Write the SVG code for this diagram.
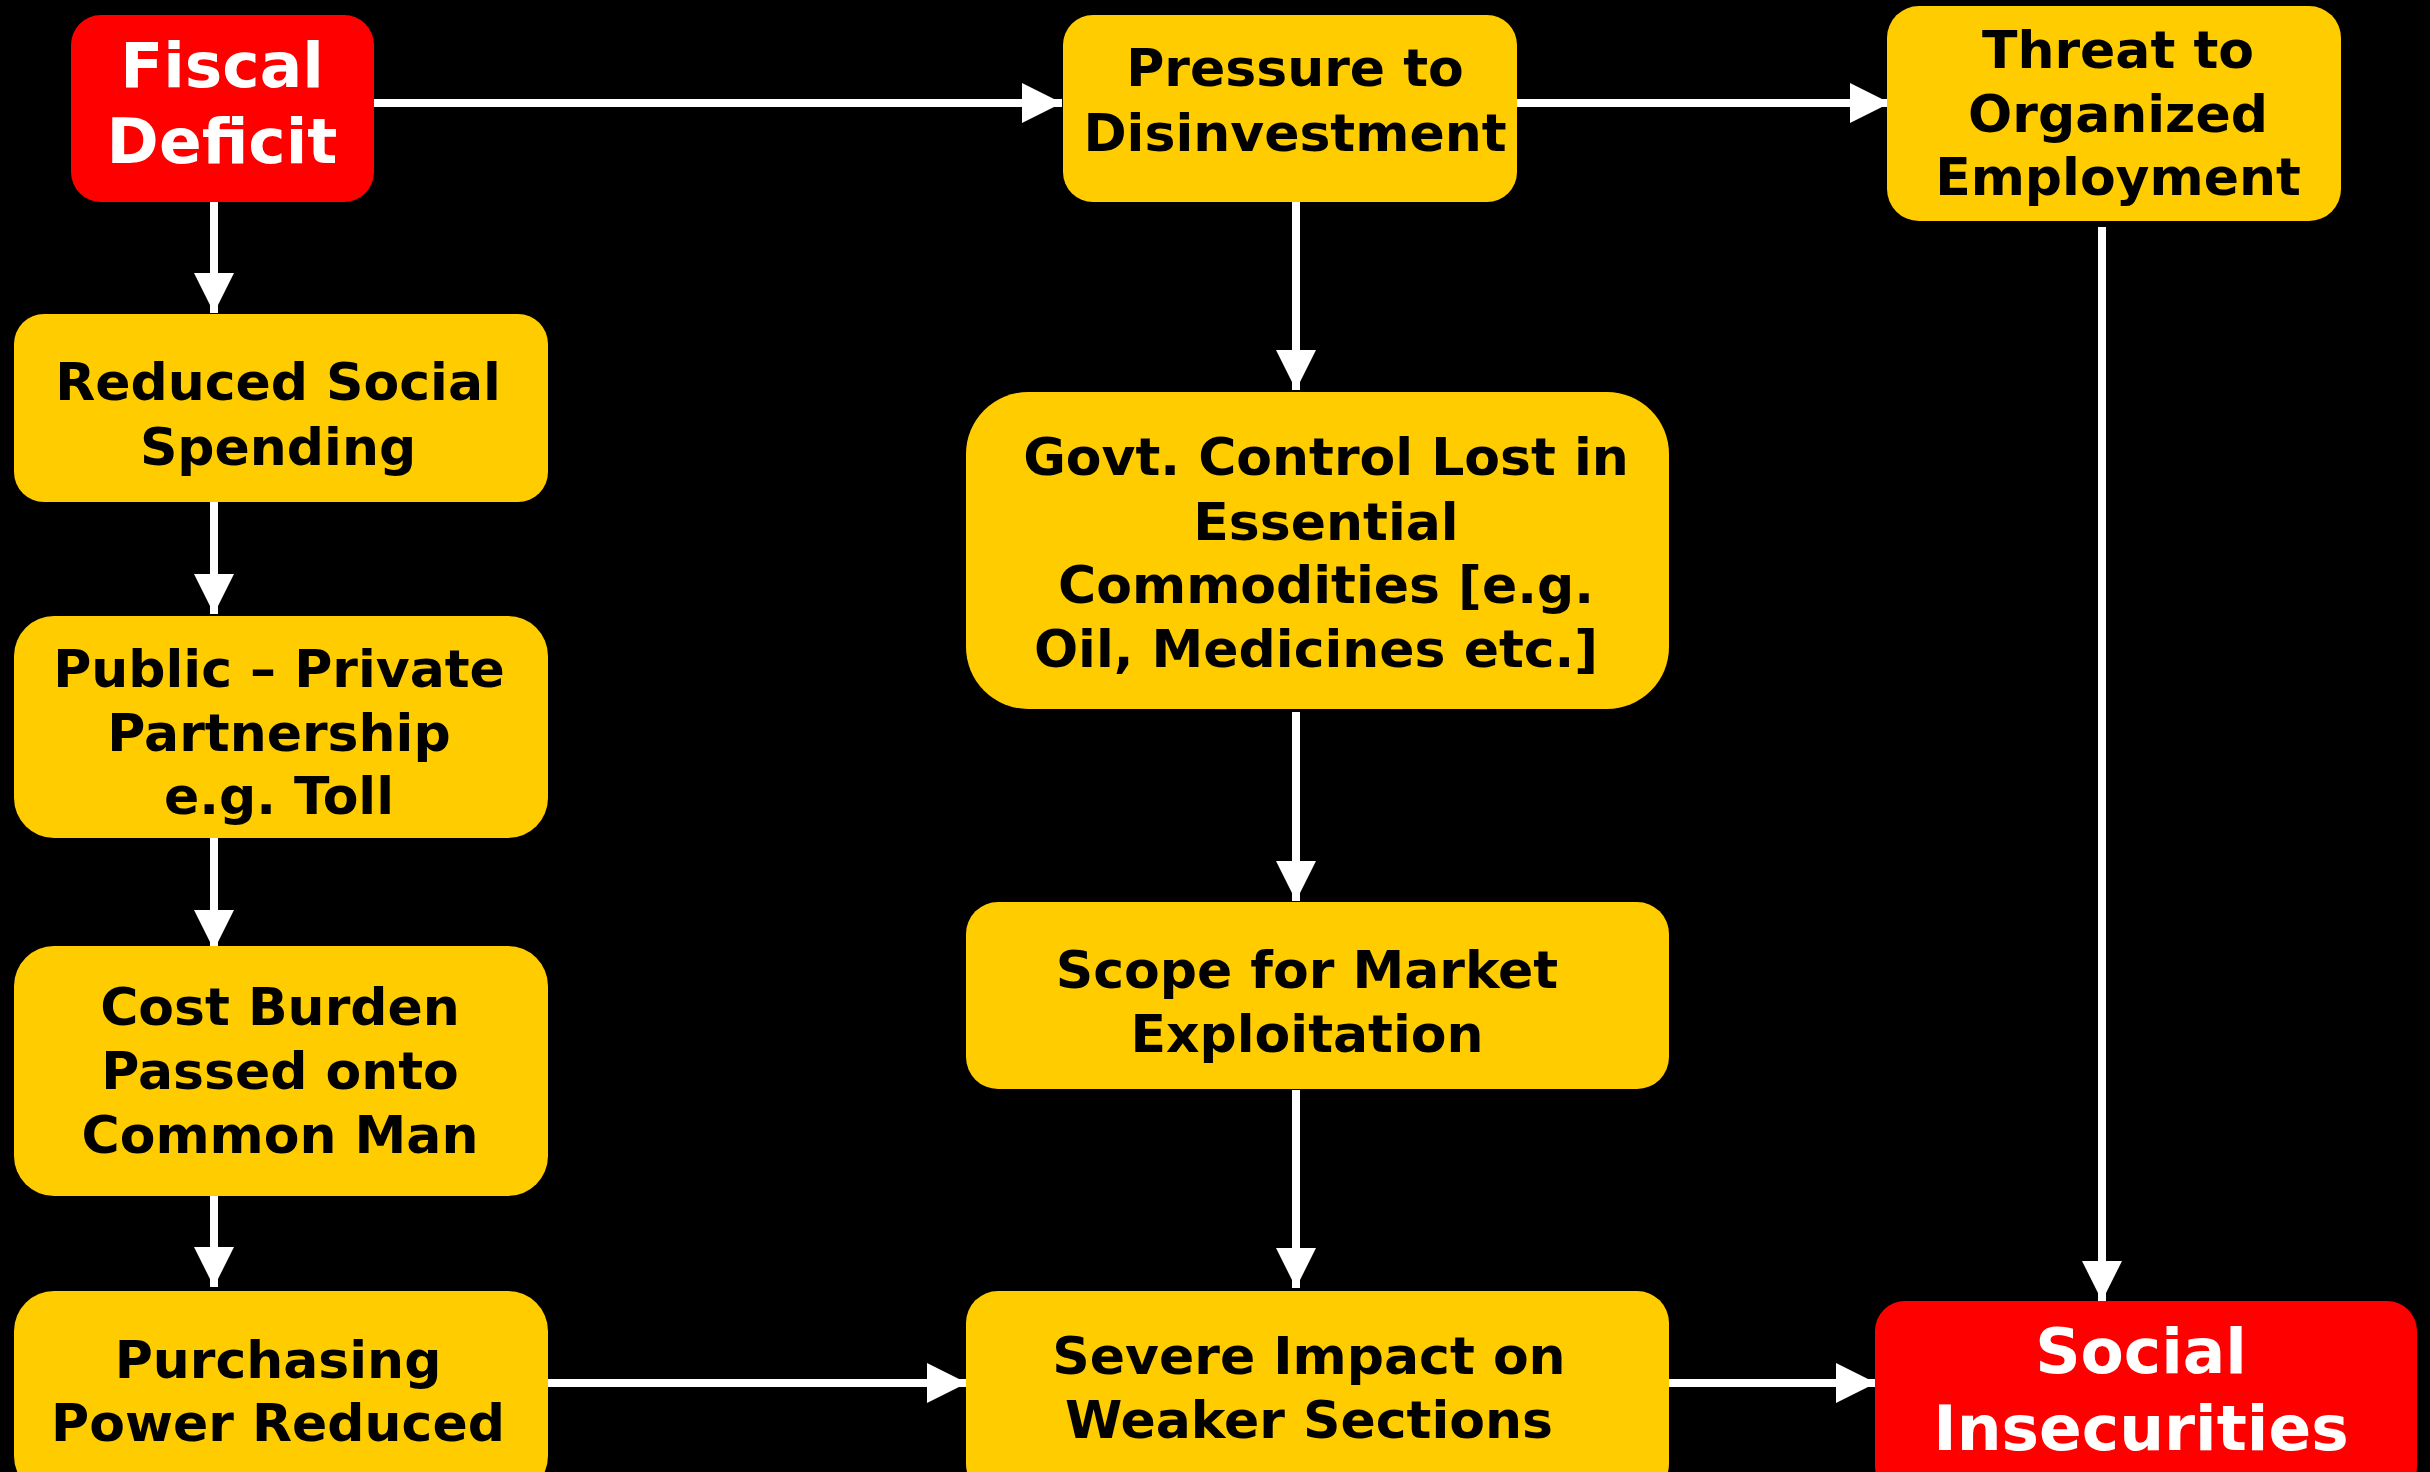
<svg xmlns="http://www.w3.org/2000/svg" width="2430" height="1472" viewBox="0 0 2430 1472">
<defs>
<marker id="ah" markerUnits="userSpaceOnUse" markerWidth="40" markerHeight="40" refX="40" refY="20" orient="auto" viewBox="0 0 40 40">
<path d="M0,0 L40,20 L0,40 Z" fill="#FFFFFF"/>
</marker>
<style>
.y{fill:#FFCC00;}
.r{fill:#FF0000;}
.t{font-family:"DejaVu Sans","Verdana",sans-serif;font-weight:bold;font-size:52px;fill:#000000;text-anchor:middle;}
.w{font-family:"DejaVu Sans","Verdana",sans-serif;font-weight:bold;font-size:63px;fill:#FFFFFF;text-anchor:middle;}
.c{stroke:#FFFFFF;stroke-width:8;fill:none;marker-end:url(#ah);}
</style>
</defs>
<rect x="0" y="0" width="2430" height="1472" fill="#000000"/>
<g id="connectors">
<line class="c" x1="374" y1="103" x2="1062" y2="103"/>
<line class="c" x1="1515" y1="103" x2="1890" y2="103"/>
<line class="c" x1="214" y1="198" x2="214" y2="313"/>
<line class="c" x1="214" y1="500" x2="214" y2="614"/>
<line class="c" x1="214" y1="835" x2="214" y2="950"/>
<line class="c" x1="214" y1="1187" x2="214" y2="1287"/>
<line class="c" x1="548" y1="1383" x2="967" y2="1383"/>
<line class="c" x1="1669" y1="1383" x2="1876" y2="1383"/>
<line class="c" x1="1296" y1="198" x2="1296" y2="390"/>
<line class="c" x1="1296" y1="712" x2="1296" y2="901"/>
<line class="c" x1="1296" y1="1090" x2="1296" y2="1288"/>
<line class="c" x1="2102" y1="227" x2="2102" y2="1301"/>
</g>
<g id="fiscal-deficit">
<rect class="r" x="71" y="15" width="303" height="187" rx="30" ry="30"/>
<text class="w" x="222" y="87">Fiscal</text>
<text class="w" x="222" y="163">Deficit</text>
</g>
<g id="pressure-disinvestment">
<rect class="y" x="1063" y="15" width="454" height="187" rx="30" ry="30"/>
<text class="t" x="1295" y="86">Pressure to</text>
<text class="t" x="1295" y="151">Disinvestment</text>
</g>
<g id="threat-employment">
<rect class="y" x="1887" y="6" width="454" height="215" rx="32" ry="32"/>
<text class="t" x="2118" y="68">Threat to</text>
<text class="t" x="2118" y="132">Organized</text>
<text class="t" x="2118" y="195">Employment</text>
</g>
<g id="reduced-social-spending">
<rect class="y" x="14" y="314" width="534" height="188" rx="30" ry="30"/>
<text class="t" x="278" y="400">Reduced Social</text>
<text class="t" x="278" y="465">Spending</text>
</g>
<g id="public-private">
<rect class="y" x="14" y="616" width="534" height="222" rx="40" ry="40"/>
<text class="t" x="279" y="687">Public – Private</text>
<text class="t" x="279" y="751">Partnership</text>
<text class="t" x="279" y="814">e.g. Toll</text>
</g>
<g id="cost-burden">
<rect class="y" x="14" y="946" width="534" height="250" rx="40" ry="40"/>
<text class="t" x="280" y="1025">Cost Burden</text>
<text class="t" x="280" y="1089">Passed onto</text>
<text class="t" x="280" y="1153">Common Man</text>
</g>
<g id="purchasing-power">
<rect class="y" x="14" y="1291" width="534" height="205" rx="40" ry="40"/>
<text class="t" x="278" y="1378">Purchasing</text>
<text class="t" x="278" y="1441">Power Reduced</text>
</g>
<g id="govt-control">
<rect class="y" x="966" y="392" width="703" height="317" rx="62" ry="62"/>
<text class="t" x="1326" y="475">Govt. Control Lost in</text>
<text class="t" x="1326" y="540">Essential</text>
<text class="t" x="1326" y="603">Commodities [e.g.</text>
<text class="t" x="1316" y="667">Oil, Medicines etc.]</text>
</g>
<g id="scope-market">
<rect class="y" x="966" y="902" width="703" height="187" rx="32" ry="32"/>
<text class="t" x="1307" y="988">Scope for Market</text>
<text class="t" x="1307" y="1052">Exploitation</text>
</g>
<g id="severe-impact">
<rect class="y" x="966" y="1291" width="703" height="205" rx="32" ry="32"/>
<text class="t" x="1309" y="1374">Severe Impact on</text>
<text class="t" x="1309" y="1438">Weaker Sections</text>
</g>
<g id="social-insecurities">
<rect class="r" x="1875" y="1301" width="542" height="195" rx="30" ry="30"/>
<text class="w" x="2141" y="1373">Social</text>
<text class="w" x="2141" y="1450">Insecurities</text>
</g>
</svg>
